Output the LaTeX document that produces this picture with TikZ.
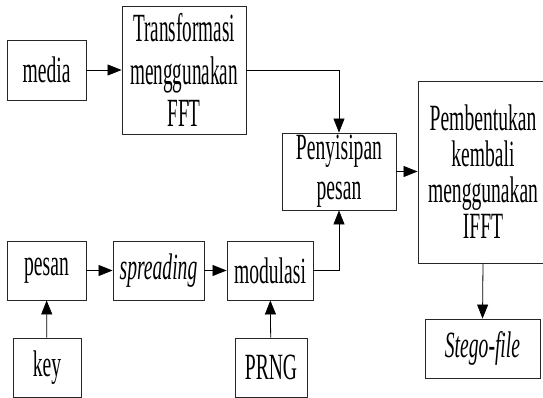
\documentclass[tikz,border=0pt]{standalone}
\usepackage{fontspec}
\setmainfont{Liberation Serif}[FakeStretch=0.53]
\newfontfamily\tallfont{Liberation Serif}[FakeStretch=0.48]
\usetikzlibrary{arrows.meta}
\begin{document}
\begin{tikzpicture}[x=1pt,y=-1pt,
  box/.style={draw=black!85, line width=0.9pt, inner sep=0pt, align=center,
    font=\fontsize{37}{36}\selectfont},
  conn/.style={line width=0.8pt, -{Triangle[length=14pt,width=11pt]}}]
\useasboundingbox (0,0) rectangle (543,398);
\clip (0,0) rectangle (543,398);
\fill[white] (0,0) rectangle (543,398);
\node[box, minimum width=79pt, minimum height=60pt] (media) at (46.5,70) {media};
\node[box, minimum width=124pt, minimum height=128pt, font=\tallfont\fontsize{40}{42.5}\selectfont] (trans) at (184,70) {Transformasi\\menggunakan\\FFT};
\node[box, minimum width=114pt, minimum height=77pt, font=\fontsize{37}{40}\selectfont] (peny) at (339,171.5) {Penyisipan\\pesan};
\node[box, minimum width=130pt, minimum height=182pt] (pemb) at (483,172) {Pembentukan\\kembali\\menggunakan\\IFFT};
\node[box, minimum width=115pt, minimum height=59pt] (stego) at (482.5,348.5) {\itshape Stego-file};
\node[box, minimum width=79pt, minimum height=59pt] (pesan) at (46.5,270.5) {pesan};
\node[box, minimum width=91pt, minimum height=59pt] (spread) at (158.5,270.5) {\itshape spreading};
\node[box, minimum width=86pt, minimum height=59pt] (modul) at (270,270.5) {modulasi};
\node[box, minimum width=68pt, minimum height=59pt] (key) at (47,367.5) {key};
\node[box, minimum width=72pt, minimum height=59pt] (prng) at (271,367.5) {PRNG};
\draw[conn] (media) -- (trans);
\draw[conn] (trans.east) -| (peny.north);
\draw[conn] (peny.east) -- (peny.east -| pemb.west);
\draw[conn] (modul.east) -| (peny.south);
\draw[conn] (pesan) -- (spread);
\draw[conn] (spread) -- (modul);
\draw[conn] (key) -- (pesan);
\draw[conn] (prng) -- (modul);
\draw[conn] (pemb.south) -- (stego.north);
\end{tikzpicture}
\end{document}
